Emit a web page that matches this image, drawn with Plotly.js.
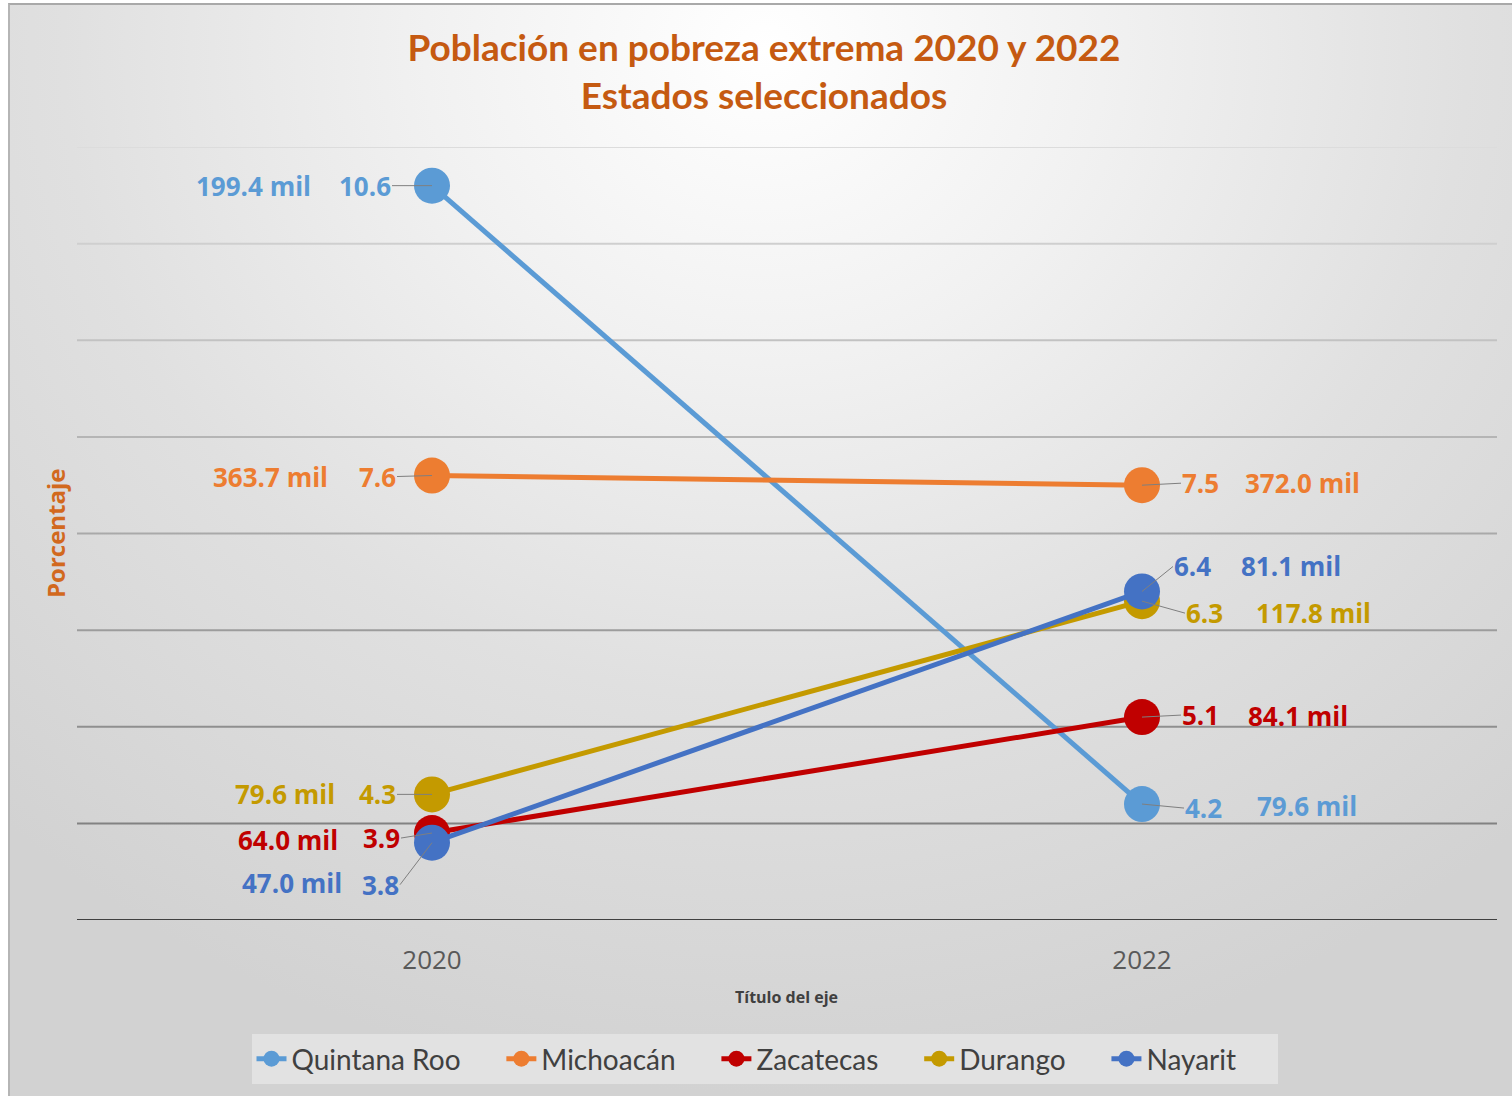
<!DOCTYPE html>
<html>
<head>
<meta charset="utf-8">
<script src="https://cdn.plot.ly/plotly-3.0.1.min.js"></script>
<style>
  html, body { margin:0; padding:0; background:#ffffff; width:1512px; height:1096px; overflow:hidden; }
  #frame { position:absolute; left:8px; top:3px; width:1510px; height:1100px;
    border-top:2px solid #a9a9a9; border-left:2px solid #b5b5b5;
    background: radial-gradient(ellipse 75% 95% at 50% 4%, #ffffff 0%, #f1f1f1 30%, #e0e0e0 62%, #d2d2d2 100%); }
  #chart { position:absolute; left:0; top:0; width:1512px; height:1096px; }
</style>
</head>
<body>
<div id="frame"></div>
<div id="chart"></div>
<script>
// ---- data ----
const years = ['2020', '2022'];
const states = ['Quintana Roo', 'Michoacán', 'Zacatecas', 'Durango', 'Nayarit'];
const pct2020 = [10.6, 7.6, 3.9, 4.3, 3.8];
const pct2022 = [4.2, 7.5, 5.1, 6.3, 6.4];
const mil2020 = ['199.4 mil', '363.7 mil', '64.0 mil', '79.6 mil', '47.0 mil'];
const mil2022 = ['79.6 mil', '372.0 mil', '84.1 mil', '117.8 mil', '81.1 mil'];

// ---- styles ----
const colors = ['#5B9BD5', '#ED7D31', '#C00000', '#C49A00', '#4472C4'];
// label offsets in px: [valueAx, valueAy(down +), milXshift, milYshift(up +)]
const off2020 = [[-40, 0, -119, 0], [-35, 1, -102, -1], [-31, 5, -92, -7], [-35, 0, -95, 0], [-32, 42, -88, -40]];
const off2022 = [[42, 4, 113, -2], [39, -2, 101, 2], [39, -2, 104, 1], [43, 12, 112, -12], [31, -25, 97, 25]];
const labelFont = 'Open Sans, DejaVu Sans, sans-serif';
const legendPad = '\u00a0\u00a0\u00a0\u00a0\u00a0';

const traces = states.map((s, i) => ({
  type: 'scatter', mode: 'lines+markers', name: s + legendPad,
  x: years, y: [pct2020[i], pct2022[i]],
  line: { color: colors[i], width: 5 },
  marker: { color: colors[i], size: 36 },
  hoverinfo: 'x+y'
}));

const annotations = [];
states.forEach((s, i) => {
  [[0, pct2020, mil2020, off2020, 'right'], [1, pct2022, mil2022, off2022, 'left']].forEach(([xi, pv, mv, off, anc]) => {
    const o = off[i];
    annotations.push({
      x: xi, y: pv[i], xref: 'x', yref: 'y',
      text: pv[i].toFixed(1), showarrow: true, arrowhead: 0, arrowwidth: 1, arrowcolor: '#7f7f7f',
      ax: o[0], ay: o[1], standoff: 0,
      xanchor: anc, yanchor: 'middle', borderpad: 0,
      font: { family: labelFont, size: 26, color: colors[i], weight: 'bold' }
    });
    annotations.push({
      x: xi, y: pv[i], xref: 'x', yref: 'y',
      text: mv[i], showarrow: false, xshift: o[2], yshift: o[3],
      xanchor: anc, yanchor: 'middle',
      font: { family: labelFont, size: 26, color: colors[i], weight: 'bold' }
    });
  });
});

annotations.push({
  xref: 'paper', yref: 'paper', x: (55 - 77) / 1420, y: (920 - 533) / 773,
  text: 'Porcentaje', showarrow: false, textangle: -90, xanchor: 'center', yanchor: 'middle',
  font: { family: labelFont, size: 24, color: '#D2691E', weight: 'bold' }
});
annotations.push({
  xref: 'paper', yref: 'paper', x: (786 - 77) / 1420, y: (920 - 997) / 773,
  text: 'Título del eje', showarrow: false, xanchor: 'center', yanchor: 'middle',
  font: { family: labelFont, size: 16, color: '#404040', weight: 'bold' }
});

// gridlines with a fading tone (light at top, darker at bottom)
const yMin = 3, yMax = 11;
const shapes = [];
for (let v = yMin + 1; v <= yMax; v++) {
  const t = (v - yMin - 1) / (yMax - yMin - 1);
  const g = Math.round(130 + t * 90);
  shapes.push({ type: 'line', xref: 'paper', yref: 'y', x0: 0, x1: 1, y0: v, y1: v,
    line: { color: `rgb(${g},${g},${g})`, width: 2 }, layer: 'below' });
}

const layout = {
  width: 1512, height: 1096,
  paper_bgcolor: 'rgba(0,0,0,0)', plot_bgcolor: 'rgba(0,0,0,0)',
  margin: { l: 77, r: 15, t: 147, b: 176 },
  title: {
    text: 'Población en pobreza extrema 2020 y 2022<br>Estados seleccionados',
    x: 764 / 1512, xanchor: 'center', y: 1 - 61 / 1096, yanchor: 'middle', yref: 'container',
    font: { family: 'Lato, sans-serif', size: 37, color: '#C55A11', weight: 'bold' }
  },
  xaxis: {
    type: 'category', range: [-0.5, 1.5], showgrid: false, zeroline: false,
    showline: false, ticks: '', ticklabelstandoff: 22,
    tickfont: { family: labelFont, size: 26, color: '#595959' },
    fixedrange: true
  },
  yaxis: {
    range: [yMin, yMax], showgrid: false, zeroline: false, showticklabels: false,
    showline: false, ticks: '', fixedrange: true
  },
  shapes: shapes.concat([{ type: 'line', xref: 'paper', yref: 'y', x0: 0, x1: 1, y0: yMin, y1: yMin,
    line: { color: '#404040', width: 2 }, layer: 'below' }]),
  annotations: annotations,
  showlegend: true,
  legend: {
    orientation: 'h', x: (764.5 - 77) / 1420, xanchor: 'center', y: (920 - 1034) / 773, yanchor: 'top',
    bgcolor: '#e2e2e2', font: { family: 'Lato, sans-serif', size: 28, color: '#404040' },
    tracegroupgap: 0
  }
};

Plotly.newPlot('chart', traces, layout, { displayModeBar: false, staticPlot: true });
</script>
</body>
</html>
